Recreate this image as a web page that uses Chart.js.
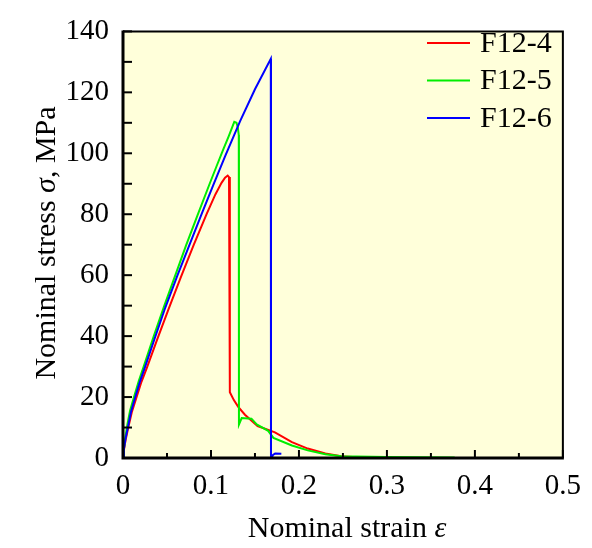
<!DOCTYPE html>
<html>
<head>
<meta charset="utf-8">
<script src="https://cdn.jsdelivr.net/npm/chart.js@4.4.1/dist/chart.umd.min.js"></script>
<style>
  html, body { margin: 0; padding: 0; background: #fff; }
  #wrap { width: 592px; height: 548px; }
</style>
</head>
<body>
<div id="wrap"><canvas id="stressChart" width="592" height="548"></canvas></div>
<script>
'use strict';

// Series labels
const seriesNames = ['F12-4', 'F12-5', 'F12-6'];
const seriesColors = ['#ff0000', '#00ee00', '#0000ff'];

// F12-4 (red)
const redStrain = [0, 0.001, 0.003, 0.006, 0.01, 0.0155, 0.021, 0.027, 0.039, 0.052, 0.066, 0.0805, 0.095, 0.105, 0.112, 0.116, 0.119, 0.1205, 0.1213,
    0.1216, 0.126, 0.131, 0.1386, 0.153, 0.1727, 0.192, 0.21, 0.23, 0.248, 0.27];
const redStress = [0, 2.5, 6, 10, 15, 20, 25, 29.5, 39, 49, 59.5, 70, 80, 86.5, 90.3, 92, 92.7, 92.2, 90,
    21.6, 19, 16.8, 14.2, 10.5, 8.4, 5.2, 3.1, 1.5, 0.6, 0.2];

// F12-5 (green)
const greenStrain = [0, 0.001, 0.0025, 0.005, 0.008, 0.0125, 0.018, 0.0235, 0.035, 0.047, 0.0595, 0.072, 0.0852, 0.0985, 0.106, 0.114, 0.12, 0.1245, 0.1265, 0.129, 0.1305, 0.1316,
    0.1318, 0.1349, 0.146, 0.152, 0.165, 0.171, 0.192, 0.21, 0.23, 0.248, 0.3, 0.377];
const greenStress = [0, 3, 6.5, 11, 15.5, 20, 25.3, 30, 40, 50, 60, 70, 80, 90, 95.5, 101.3, 105.5, 108.8, 110.3, 110, 108.5, 106,
    11, 13.1, 12.9, 11, 8.9, 6.6, 4.1, 2.5, 1.2, 0.6, 0.3, 0.2];

// F12-6 (blue)
const blueStrain = [0, 0.001, 0.003, 0.0055, 0.009, 0.014, 0.019, 0.025, 0.036, 0.048, 0.062, 0.076, 0.09, 0.1027, 0.116, 0.133, 0.15, 0.168,
    0.1682, 0.169, 0.1705, 0.173, 0.18];
const blueStress = [0, 2.8, 6.5, 10, 15, 20, 24.8, 29.8, 39.2, 49.3, 60, 70.3, 80.5, 89.6, 99, 110.5, 121, 131,
    0.5, 0, 1.0, 1.5, 1.4];

// Axis ticks
const xTickValues = [0, 0.1, 0.2, 0.3, 0.4, 0.5];
const xMinorTicks = [0.05, 0.15, 0.25, 0.35, 0.45];
const yTickValues = [0, 20, 40, 60, 80, 100, 120, 140];
const yMinorTicks = [10, 30, 50, 70, 90, 110, 130];

function toPoints(xs, ys) {
    return xs.map((x, i) => ({ x: x, y: ys[i] }));
}

const serif = "'Liberation Serif', 'Times New Roman', serif";

const framePlugin = {
    id: 'frame',
    beforeDraw(chart) {
        const { ctx, chartArea: a } = chart;
        ctx.save();
        ctx.fillStyle = '#ffffda';
        ctx.fillRect(a.left, a.top, a.right - a.left, a.bottom - a.top);
        ctx.restore();
    },
    afterDatasetsDraw(chart) {
        const { ctx, chartArea: a, scales } = chart;
        ctx.save();
        ctx.strokeStyle = '#000';
        ctx.lineCap = 'butt';

        // inward ticks
        ctx.lineWidth = 2;
        yTickValues.concat(yMinorTicks).forEach(v => {
            const y = scales.y.getPixelForValue(v);
            ctx.beginPath();
            ctx.moveTo(a.left, y);
            ctx.lineTo(a.left + 9, y);
            ctx.stroke();
        });
        xTickValues.forEach(v => {
            const x = scales.x.getPixelForValue(v);
            ctx.beginPath();
            ctx.moveTo(x, a.bottom);
            ctx.lineTo(x, a.bottom - 8);
            ctx.stroke();
        });
        xMinorTicks.forEach(v => {
            const x = scales.x.getPixelForValue(v);
            ctx.beginPath();
            ctx.moveTo(x, a.bottom);
            ctx.lineTo(x, a.bottom - 5);
            ctx.stroke();
        });

        // frame
        ctx.lineWidth = 2;
        ctx.beginPath();
        ctx.moveTo(a.left, a.top);
        ctx.lineTo(a.right, a.top);
        ctx.lineTo(a.right, a.bottom);
        ctx.stroke();
        ctx.lineWidth = 3;
        ctx.beginPath();
        ctx.moveTo(a.left, a.top - 1);
        ctx.lineTo(a.left, a.bottom);
        ctx.lineTo(a.right + 1, a.bottom);
        ctx.stroke();

        // legend
        ctx.font = '30px ' + serif;
        ctx.textBaseline = 'middle';
        ctx.textAlign = 'left';
        seriesNames.forEach((name, i) => {
            const y = 43 + i * 37.5;
            ctx.strokeStyle = seriesColors[i];
            ctx.lineWidth = 2;
            ctx.beginPath();
            ctx.moveTo(427, y);
            ctx.lineTo(470, y);
            ctx.stroke();
            ctx.fillStyle = '#000';
            ctx.fillText(name, 480, y + 1);
        });

        // axis titles
        ctx.fillStyle = '#000';
        ctx.textBaseline = 'alphabetic';
        const regular = '30px ' + serif;
        const italic = 'italic 30px ' + serif;

        ctx.font = regular;
        const xa = 'Nominal strain ';
        const wa = ctx.measureText(xa).width;
        ctx.font = italic;
        const wb = ctx.measureText('ε').width;
        let x0 = 347 - (wa + wb) / 2;
        ctx.font = regular;
        ctx.fillText(xa, x0, 537);
        ctx.font = italic;
        ctx.fillText('ε', x0 + wa, 537);

        ctx.translate(55, 243);
        ctx.rotate(-Math.PI / 2);
        const ya = 'Nominal stress ';
        const yc = ', MPa';
        ctx.font = regular;
        const w1 = ctx.measureText(ya).width;
        const w3 = ctx.measureText(yc).width;
        ctx.font = italic;
        const w2 = ctx.measureText('σ').width;
        let y0 = -(w1 + w2 + w3) / 2;
        ctx.font = regular;
        ctx.fillText(ya, y0, 0);
        ctx.font = italic;
        ctx.fillText('σ', y0 + w1, 0);
        ctx.font = regular;
        ctx.fillText(yc, y0 + w1 + w2, 0);
        ctx.restore();
    }
};

const lineStyle = { showLine: true, fill: false, borderWidth: 2, pointRadius: 0, tension: 0 };

const canvas = document.getElementById('stressChart');
const myChart = new Chart(canvas.getContext('2d'), {
    type: 'scatter',
    data: {
        datasets: [
            Object.assign({ label: seriesNames[0], data: toPoints(redStrain, redStress),
                borderColor: seriesColors[0], order: 3 }, lineStyle),
            Object.assign({ label: seriesNames[1], data: toPoints(greenStrain, greenStress),
                borderColor: seriesColors[1], order: 2 }, lineStyle),
            Object.assign({ label: seriesNames[2], data: toPoints(blueStrain, blueStress),
                borderColor: seriesColors[2], order: 1 }, lineStyle)
        ]
    },
    options: {
        responsive: false,
        animation: false,
        layout: { padding: { top: 17, right: 29, left: 0, bottom: 0 } },
        plugins: { legend: { display: false }, tooltip: { enabled: false } },
        scales: {
            x: {
                type: 'linear',
                min: 0,
                max: 0.5,
                grid: { display: false, drawTicks: false },
                border: { display: false },
                afterFit(scale) { scale.height = 90; },
                afterBuildTicks(scale) { scale.ticks = xTickValues.map(v => ({ value: v })); },
                ticks: {
                    padding: 11,
                    color: '#000',
                    font: { family: serif, size: 29 },
                    maxRotation: 0,
                    callback: v => String(v)
                }
            },
            y: {
                type: 'linear',
                min: 0,
                max: 140,
                grid: { display: false, drawTicks: false },
                border: { display: false },
                afterFit(scale) { scale.width = 123; },
                afterBuildTicks(scale) { scale.ticks = yTickValues.map(v => ({ value: v })); },
                ticks: {
                    padding: 14,
                    color: '#000',
                    font: { family: serif, size: 29 }
                }
            }
        }
    },
    plugins: [framePlugin]
});
</script>
</body>
</html>
